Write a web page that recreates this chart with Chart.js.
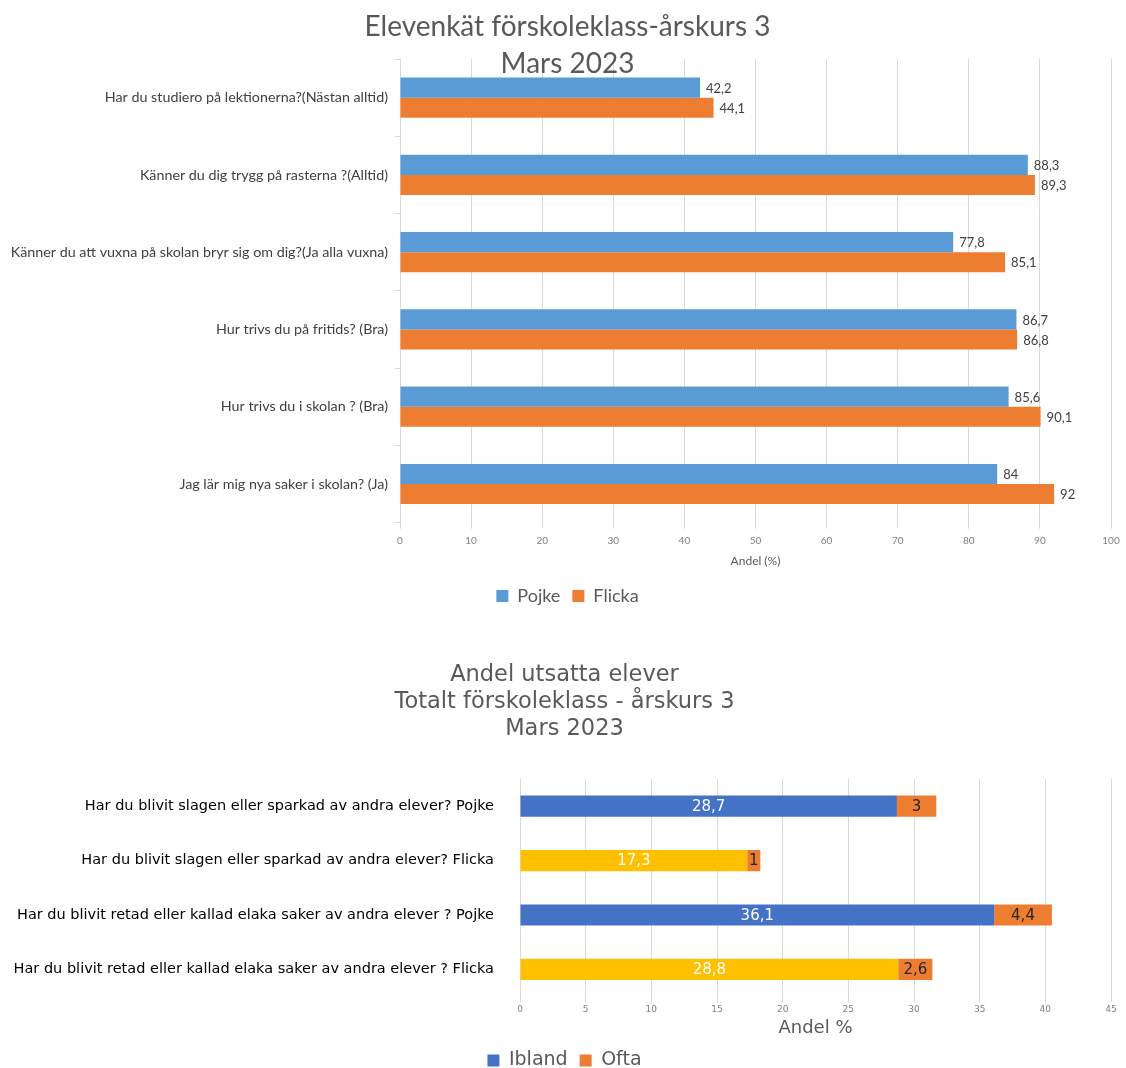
<!DOCTYPE html>
<html>
<head>
<meta charset="utf-8">
<script src="https://cdn.jsdelivr.net/npm/chart.js@4.4.0/dist/chart.umd.min.js"></script>
<style>
  body { margin: 0; background: #fff; overflow: hidden; }
  #wrap1 { position: absolute; left: 0; top: 0; }
  #wrap2 { position: absolute; left: 0; top: 630px; }
</style>
</head>
<body>
<div id="wrap1"><canvas id="firstChart" width="1126" height="620"></canvas></div>
<div id="wrap2"><canvas id="secondChart" width="1126" height="450"></canvas></div>
<script>
// chart 1 data
const questions = [
  'Har du studiero på lektionerna?(Nästan alltid)',
  'Känner du dig trygg på rasterna ?(Alltid)',
  'Känner du att vuxna på skolan bryr sig om dig?(Ja alla vuxna)',
  'Hur trivs du på fritids? (Bra)',
  'Hur trivs du i skolan ? (Bra)',
  'Jag lär mig nya saker i skolan? (Ja)'
];
const pojke = [42.2, 88.3, 77.8, 86.7, 85.6, 84];
const flicka = [44.1, 89.3, 85.1, 86.8, 90.1, 92];

// chart 2 data
const utsattQuestions = [
  'Har du blivit slagen eller sparkad av andra elever? Pojke',
  'Har du blivit slagen eller sparkad av andra elever? Flicka',
  'Har du blivit retad eller kallad elaka saker av andra elever ? Pojke',
  'Har du blivit retad eller kallad elaka saker av andra elever ? Flicka'
];
const ibland = [28.7, 17.3, 36.1, 28.8];
const ofta = [3, 1, 4.4, 2.6];

const fmt = v => String(v).replace('.', ',');

// draws the value labels from the bar elements
const valueLabels = {
  id: 'valueLabels',
  afterDatasetsDraw(chart, args, opts) {
    const ctx = chart.ctx;
    ctx.save();
    chart.data.datasets.forEach((ds, i) => {
      const meta = chart.getDatasetMeta(i);
      const o = opts.sets[i];
      ctx.font = o.font;
      ctx.fillStyle = o.color;
      ctx.textBaseline = 'middle';
      meta.data.forEach((bar, j) => {
        const txt = fmt(ds.data[j]);
        if (o.inside) {
          ctx.textAlign = 'center';
          ctx.fillText(txt, (bar.x + bar.base) / 2, bar.y + 1);
        } else {
          ctx.textAlign = 'left';
          ctx.fillText(txt, bar.x + 6, bar.y + 1);
        }
      });
    });
    ctx.restore();
  }
};

// nudge title and legend to the right (the original is not centred on the canvas)
const centerShift = {
  id: 'centerShift',
  afterLayout(chart, args, opts) {
    [chart.titleBlock, chart.legend].forEach(b => { if (b) b.left += opts.shift; });
  }
};

let ctx = document.getElementById('firstChart').getContext('2d');
let firstChart = new Chart(ctx, {
  type: 'bar',
  data: {
    labels: questions,
    datasets: [
      { label: 'Pojke', data: pojke, backgroundColor: '#5B9BD5' },
      { label: 'Flicka', data: flicka, backgroundColor: '#ED7D31' }
    ]
  },
  plugins: [valueLabels, centerShift],
  options: {
    responsive: false,
    animation: false,
    indexAxis: 'y',
    categoryPercentage: 0.52,
    barPercentage: 1,
    layout: { padding: { left: 0, right: 15, top: 0, bottom: 5 } },
    scales: {
      x: {
        min: 0, max: 100,
        ticks: { stepSize: 10, color: '#808080', font: { family: 'Lato', size: 10 }, padding: 6 },
        grid: { color: '#d9d9d9', tickLength: 6 },
        border: { display: false },
        title: { display: true, text: 'Andel (%)', color: '#595959', font: { family: 'Lato', size: 12 }, padding: { top: 1, bottom: 7 } }
      },
      y: {
        afterFit: scale => { scale.width = 400; },
        ticks: { color: '#404040', font: { family: 'Lato', size: 14.3 }, padding: 7 },
        grid: { offset: true, drawOnChartArea: false, color: '#d9d9d9', tickLength: 5 },
        border: { display: true, color: '#d9d9d9' }
      }
    },
    plugins: {
      title: {
        display: true,
        text: ['Elevenkät förskoleklass-årskurs 3', 'Mars 2023'],
        color: '#595959',
        font: { family: 'Lato', size: 28, weight: 'normal', lineHeight: 1.34 },
        padding: { top: 8, bottom: -24 }
      },
      legend: {
        position: 'bottom',
        labels: { color: '#595959', font: { family: 'Lato', size: 18 }, boxWidth: 12, boxHeight: 12, padding: 12 }
      },
      tooltip: { enabled: false },
      centerShift: { shift: 24 },
      valueLabels: {
        sets: [
          { font: '13px Lato', color: '#404040' },
          { font: '13px Lato', color: '#404040' }
        ]
      }
    }
  }
});

ctx = document.getElementById('secondChart').getContext('2d');
let secondChart = new Chart(ctx, {
  type: 'bar',
  data: {
    labels: utsattQuestions,
    datasets: [
      { label: 'Ibland', data: ibland, backgroundColor: c => (c.dataIndex % 2 === 1 ? '#FFC000' : '#4472C4') },
      { label: 'Ofta', data: ofta, backgroundColor: '#ED7D31' }
    ]
  },
  plugins: [valueLabels, centerShift],
  options: {
    responsive: false,
    animation: false,
    indexAxis: 'y',
    categoryPercentage: 0.39,
    barPercentage: 1,
    layout: { padding: { left: 0, right: 15, top: 0, bottom: 0 } },
    scales: {
      x: {
        stacked: true,
        min: 0, max: 45,
        ticks: { stepSize: 5, color: '#808080', font: { family: 'DejaVu Sans', size: 9 }, padding: 2 },
        grid: { color: '#d9d9d9', tickLength: 6 },
        border: { display: false },
        title: { display: true, text: 'Andel %', color: '#595959', font: { family: 'DejaVu Sans', size: 18 }, padding: { top: 0, bottom: 0 } }
      },
      y: {
        stacked: true,
        afterFit: scale => { scale.width = 520; },
        ticks: { color: '#000000', font: { family: 'DejaVu Sans', size: 14.5 }, padding: 18 },
        grid: { display: false },
        border: { display: true, color: '#d9d9d9' }
      }
    },
    plugins: {
      title: {
        display: true,
        text: ['Andel utsatta elever', 'Totalt förskoleklass - årskurs 3', 'Mars 2023'],
        color: '#595959',
        font: { family: 'DejaVu Sans', size: 22.5, weight: 'normal', lineHeight: 1.2 },
        padding: { top: 31.5, bottom: 36.5 }
      },
      legend: {
        position: 'bottom',
        labels: { color: '#595959', font: { family: 'DejaVu Sans', size: 19 }, boxWidth: 12, boxHeight: 12, padding: 12 }
      },
      tooltip: { enabled: false },
      centerShift: { shift: 18 },
      valueLabels: {
        sets: [
          { font: '15px "DejaVu Sans"', color: '#ffffff', inside: true },
          { font: '15px "DejaVu Sans"', color: '#262626', inside: true }
        ]
      }
    }
  }
});
</script>
</body>
</html>
